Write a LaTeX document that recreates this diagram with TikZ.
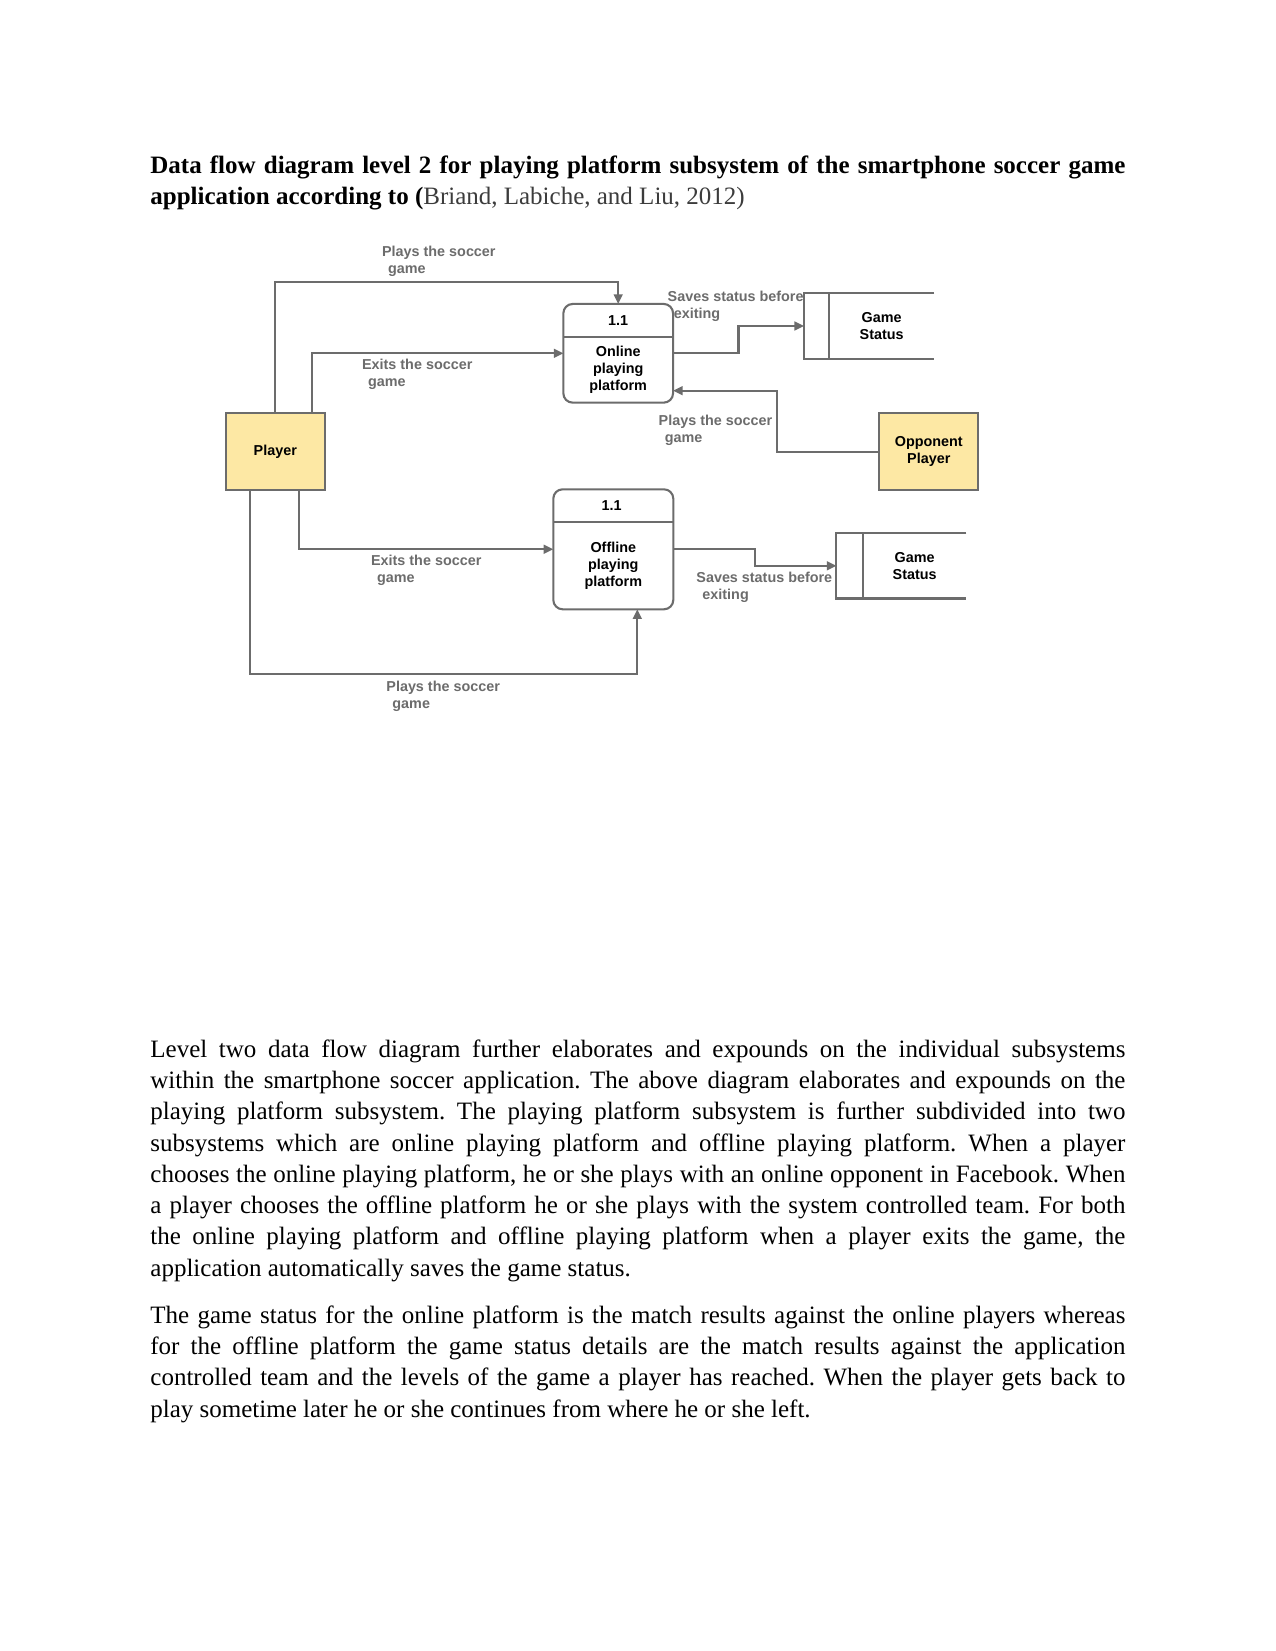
\documentclass[tikz,border=0pt]{standalone}
\usepackage{fontspec}
\setmainfont{Liberation Serif}
\newfontfamily\diafont{Liberation Sans}
\usetikzlibrary{arrows.meta,calc}
\definecolor{linegray}{RGB}{108,108,108}
\definecolor{labelgray}{RGB}{108,108,108}
\definecolor{boxyellow}{RGB}{253,232,164}
\definecolor{citegray}{RGB}{60,60,60}
\newcommand\twoline[2]{\begin{tabular}[t]{@{}l@{}}#1\\\hspace*{2.9pt}#2\end{tabular}}
\frenchspacing
\begin{document}
\begin{tikzpicture}[x=0.48pt,y=-0.48pt,
  diatext/.style={font=\diafont\bfseries\fontsize{6.9}{8.3}\selectfont},
  flow/.style={draw=linegray, line width=1pt, -{Triangle[length=4.6pt,width=4.2pt]}},
  entity/.style={diatext, draw=linegray, line width=1pt, fill=boxyellow, align=center, inner sep=0, outer sep=0},
  procbox/.style={draw=linegray, line width=1pt, rounded corners=4.5pt, inner sep=0, outer sep=0},
  divider/.style={draw=linegray, line width=1pt},
  storebox/.style={inner sep=0, outer sep=0, minimum width=62.4pt, minimum height=31.4pt},
  storeline/.style={draw=linegray, line width=1pt},
  ntext/.style={diatext, align=center, inner sep=0, text=black},
  flowlabel/.style={diatext, text=labelgray, anchor=base west, inner sep=0},
  para/.style={anchor=base west, inner sep=0}
]
\fill[white] (0,0) rectangle (1275,1651);
\useasboundingbox (0,0) rectangle (1275,1651);

% ---- title ----
\node[para] (title) at (150,174) {\parbox[t]{468pt}{\fontsize{12}{14.6}\selectfont\frenchspacing\hyphenpenalty=10000\tolerance=9999\bfseries
Data flow diagram level 2 for playing platform subsystem of the smartphone soccer game\linebreak
application according to (\mdseries\color{citegray}Briand, Labiche, and Liu, 2012)}};

% ---- entities ----
\node[entity, minimum width=47.38pt, minimum height=37.1pt] (pl) at (275.3,451.3) {Player};
\node[entity, minimum width=47.52pt, minimum height=36.8pt] (op) at (928.8,451.7) {Opponent\\Player};

% ---- processes ----
\node[procbox, minimum width=52.66pt, minimum height=47.38pt] (on) at (618.2,353.3) {};
\draw[divider] ($(on.north west)+(0,32.7)$) -- ($(on.north east)+(0,32.7)$);
\node[ntext] (onid) at (618.2,320.3) {1.1};
\node[ntext] (onname) at (618.2,369.7) {Online\\playing\\platform};

\node[procbox, minimum width=57.6pt, minimum height=57.6pt] (off) at (613.3,549.3) {};
\draw[divider] ($(off.north west)+(0,32.7)$) -- ($(off.north east)+(0,32.7)$);
\node[ntext] (offid) at (611.5,505.7) {1.1};
\node[ntext] (offname) at (613.3,565.7) {Offline\\playing\\platform};

% ---- data stores ----
\node[storebox] (s1) at (869,326) {};
\draw[storeline] (s1.north east) -- (s1.north west) -- (s1.south west) -- (s1.south east);
\draw[storeline] ($(s1.north west)+(25.3,0)$) -- ($(s1.south west)+(25.3,0)$);
\node[ntext] (s1t) at (881.7,326) {Game\\Status};

\node[storebox] (s2) at (901.35,565.8) {};
\draw[storeline] (s2.north east) -- (s2.north west) -- (s2.south west) -- (s2.south east);
\draw[storeline] ($(s2.north west)+(26.7,0)$) -- ($(s2.south west)+(26.7,0)$);
\node[ntext] (s2t) at (914.7,565.8) {Game\\Status};

% ---- flows ----
\draw[flow] (pl.north) |- ($(on.north)+(0,-22.3)$) -- (on.north);
\draw[flow] ($(pl.north)+(37,0)$) |- (on.west);
\draw[flow] ($(pl.south)+(23.4,0)$) |- (off.west);
\draw[flow] ($(pl.south)+(-25.3,0)$) |- ($(off.south)+(24,65)$) -- ($(off.south)+(24,0)$);
\draw[flow] (op.west) -| ($(on.east)+(103.5,37.4)$) -- ($(on.east)+(0,37.4)$);
\draw[flow] (on.east) -| ($(on.east)!0.5!(s1.west)$) |- (s1.west);
\draw[flow] (off.east) -| ($(off.east)!0.5!(s2.west)$) |- (s2.west);

% ---- flow labels ----
\node[flowlabel] (lab1) at (381.7,256.7) {\twoline{Plays the soccer}{game}};
\node[flowlabel] (lab2) at (361.7,369.3) {\twoline{Exits the soccer}{game}};
\node[flowlabel] (lab3) at (667.3,301.7) {\twoline{Saves status before}{exiting}};
\node[flowlabel] (lab4) at (658.3,425.7) {\twoline{Plays the soccer}{game}};
\node[flowlabel] (lab5) at (370.7,565.7) {\twoline{Exits the soccer}{game}};
\node[flowlabel] (lab6) at (386,691) {\twoline{Plays the soccer}{game}};
\node[flowlabel] (lab7) at (696,582.3) {\twoline{Saves status before}{exiting}};

% ---- body text ----
\node[para] (p1) at (150,1057.3) {\parbox[t]{468pt}{\fontsize{12}{15}\selectfont\frenchspacing\hyphenpenalty=10000\tolerance=9999
Level two data flow diagram further elaborates and expounds on the individual subsystems\linebreak
within the smartphone soccer application. The above diagram elaborates and expounds on the\linebreak
playing platform subsystem. The playing platform subsystem is further subdivided into two\linebreak
subsystems which are online playing platform and offline playing platform. When a player\linebreak
chooses the online playing platform, he or she plays with an online opponent in Facebook. When\linebreak
a player chooses the offline platform he or she plays with the system controlled team. For both\linebreak
the online playing platform and offline playing platform when a player exits the game, the\linebreak
application automatically saves the game status.}};

\node[para] (p2) at (150,1323.3) {\parbox[t]{468pt}{\fontsize{12}{15}\selectfont\frenchspacing\hyphenpenalty=10000\tolerance=9999
The game status for the online platform is the match results against the online players whereas\linebreak
for the offline platform the game status details are the match results against the application\linebreak
controlled team and the levels of the game a player has reached. When the player gets back to\linebreak
play sometime later he or she continues from where he or she left.}};
\end{tikzpicture}
\end{document}
